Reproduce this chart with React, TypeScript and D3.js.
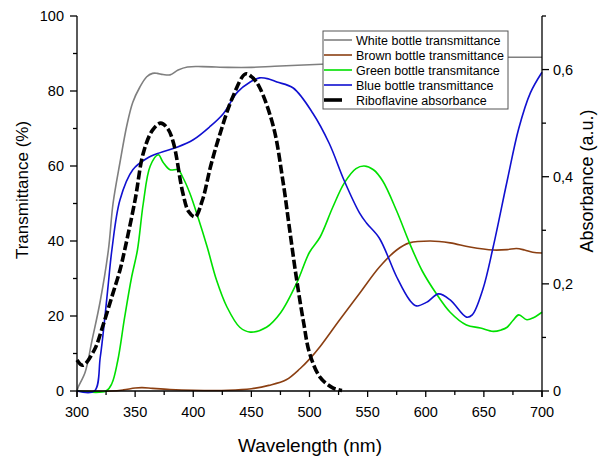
import React, { useEffect, useRef } from 'react';
import * as d3 from 'd3';

// [wavelength nm, transmittance %]
const whiteT: [number, number][] = [
  [300, 0], [301, 1], [307, 5], [313, 13.6], [320, 24], [327, 37.6], [331, 50], [337, 61],
  [343, 71], [348, 77], [354, 81], [360, 83.8], [365, 84.7], [369, 84.7], [374, 84.4], [380, 84.3],
  [387, 85.6], [395, 86.4], [408, 86.5], [430, 86.3], [450, 86.3], [470, 86.6], [500, 87],
  [530, 87.4], [560, 87.9], [590, 88.4], [620, 89], [650, 89], [700, 89],
];

const brownT: [number, number][] = [
  [300, 0], [330, 0], [340, 0.3], [350, 0.8], [356, 0.9], [365, 0.7], [380, 0.4], [400, 0.2],
  [430, 0.2], [450, 0.6], [465, 1.5], [480, 3], [492, 6], [500, 8.5], [509, 11.8], [526, 19],
  [543, 26], [560, 33], [575, 37.6], [586, 39.5], [604, 40], [621, 39.5], [638, 38.4],
  [658, 37.6], [670, 37.7], [678, 38], [685, 37.6], [692, 37], [700, 36.8],
];

const greenT: [number, number][] = [
  [300, 0], [325, 0], [330, 2], [335, 8], [341, 19.7], [347, 30.4], [352, 37.6], [357, 50],
  [363, 60], [370, 63], [374, 61], [380, 59], [387, 59], [391, 57], [397, 52.8], [404, 46.4],
  [412, 38.4], [420, 29.6], [429, 22.4], [440, 17], [449, 15.7], [463, 17], [475, 20.8],
  [489, 28.8], [500, 37], [509, 41], [520, 49], [530, 55.5], [540, 59.3], [547, 60], [555, 59],
  [563, 56], [575, 48], [586, 39.5], [597, 32], [609, 26], [621, 21], [635, 17.6], [647, 16.8],
  [658, 15.9], [665, 16.3], [670, 17], [675, 18.8], [680, 20.3], [687, 19], [693, 19.6], [700, 21],
];

const blueT: [number, number][] = [
  [300, 0], [315, 0], [320, 9], [324, 19.7], [327, 28.8], [330, 37.6], [337, 51], [348, 59],
  [360, 62], [371, 63.5], [386, 65], [400, 67], [414, 70.4], [426, 74], [438, 79.7],
  [449, 82.4], [457, 83.5], [465, 83.2], [472, 82.4], [486, 80.8], [503, 74], [517, 66],
  [530, 56], [543, 47.5], [549, 44.8], [560, 40.8], [575, 30.4], [586, 24.3], [592, 22.7],
  [601, 23.7], [611, 25.9], [621, 24.3], [635, 19.7], [640, 20.3], [649, 27], [658, 38.4],
  [670, 56], [680, 70], [690, 79.5], [700, 85],
];

// [wavelength nm, absorbance]
const riboA: [number, number][] = [
  [300, 0.058], [305, 0.048], [315, 0.077], [322, 0.12], [330, 0.176], [337, 0.226],
  [341, 0.263], [350, 0.357], [357, 0.444], [365, 0.487], [372, 0.5], [378, 0.49], [383, 0.463],
  [391, 0.37], [396, 0.335], [401.5, 0.325], [408, 0.357], [415, 0.42], [423, 0.48], [434, 0.549],
  [445, 0.592], [451, 0.585], [457, 0.567], [469, 0.493], [477, 0.394], [483, 0.3], [489, 0.207],
  [495, 0.127], [500, 0.071], [509, 0.026], [520, 0.006], [528, 0.001],
];

const xTicks = [300, 350, 400, 450, 500, 550, 600, 650, 700];
const xMinor = [325, 375, 425, 475, 525, 575, 625, 675];
const yTicks = [0, 20, 40, 60, 80, 100];
const yMinor = [10, 30, 50, 70, 90];
const aTicks = [0, 0.2, 0.4, 0.6];
const aMinor = [0.1, 0.3, 0.5, 0.7];

const legendItems = [
  { label: 'White bottle transmittance', color: '#7f7f7f' },
  { label: 'Brown bottle  transmittance', color: '#8b3f12' },
  { label: 'Green bottle  transmitance', color: '#00e000' },
  { label: 'Blue bottle  transmittance', color: '#1010d0' },
  { label: 'Riboflavine absorbance', color: '#000000' },
];

const W = 599;
const H = 456;

export default function App() {
  const svgRef = useRef<SVGSVGElement>(null);

  useEffect(() => {
    document.body.style.margin = '0';
    const svg = d3.select(svgRef.current);
    svg.selectAll('*').remove();

    const margin = { top: 16, right: 57, bottom: 65, left: 77 };
    const font = 'Liberation Sans, Arial, sans-serif';

    const x = d3.scaleLinear().domain([300, 700]).range([margin.left, W - margin.right]);
    const y = d3.scaleLinear().domain([0, 100]).range([H - margin.bottom, margin.top]);
    const ya = d3.scaleLinear().domain([0, 0.7]).range([H - margin.bottom, margin.top]);

    const bottom = H - margin.bottom;
    const left = margin.left;
    const right = W - margin.right;

    const line = d3.line<[number, number]>()
      .x(d => x(d[0]))
      .y(d => y(d[1]))
      .curve(d3.curveCatmullRom.alpha(0.5));

    const lineA = d3.line<[number, number]>()
      .x(d => x(d[0]))
      .y(d => ya(d[1]))
      .curve(d3.curveCatmullRom.alpha(0.5));

    const g = svg.append('g');

    const series: [[number, number][], string][] = [
      [whiteT, legendItems[0].color],
      [brownT, legendItems[1].color],
      [greenT, legendItems[2].color],
      [blueT, legendItems[3].color],
    ];
    series.forEach(([data, color]) => {
      g.append('path')
        .datum(data)
        .attr('fill', 'none')
        .attr('stroke', color)
        .attr('stroke-width', 1.6)
        .attr('d', line);
    });

    g.append('path')
      .datum(riboA)
      .attr('fill', 'none')
      .attr('stroke', '#000')
      .attr('stroke-width', 3.6)
      .attr('stroke-dasharray', '9,3')
      .attr('d', lineA);

    // axes
    const axes = svg.append('g').attr('stroke', '#000').attr('stroke-width', 1.3);
    axes.append('line').attr('x1', left).attr('x2', left).attr('y1', margin.top).attr('y2', bottom + 6);
    axes.append('line').attr('x1', right).attr('x2', right).attr('y1', margin.top).attr('y2', bottom + 6);
    axes.append('line').attr('x1', left).attr('x2', right).attr('y1', bottom).attr('y2', bottom);

    xTicks.forEach(t => {
      axes.append('line').attr('x1', x(t)).attr('x2', x(t)).attr('y1', bottom).attr('y2', bottom + 6);
    });
    xMinor.forEach(t => {
      axes.append('line').attr('x1', x(t)).attr('x2', x(t)).attr('y1', bottom).attr('y2', bottom + 4);
    });
    yTicks.forEach(t => {
      axes.append('line').attr('x1', left - 7).attr('x2', left).attr('y1', y(t)).attr('y2', y(t));
    });
    yMinor.forEach(t => {
      axes.append('line').attr('x1', left - 4).attr('x2', left).attr('y1', y(t)).attr('y2', y(t));
    });
    aTicks.forEach(t => {
      axes.append('line').attr('x1', right).attr('x2', right + 7).attr('y1', ya(t)).attr('y2', ya(t));
    });
    aMinor.forEach(t => {
      axes.append('line').attr('x1', right).attr('x2', right + 4).attr('y1', ya(t)).attr('y2', ya(t));
    });

    const labels = svg.append('g').attr('font-family', font).attr('font-size', 14.5).attr('fill', '#000');
    xTicks.forEach(t => {
      labels.append('text').attr('x', x(t)).attr('y', bottom + 26).attr('text-anchor', 'middle').text(t);
    });
    yTicks.forEach(t => {
      labels.append('text').attr('x', left - 13).attr('y', y(t) + 5).attr('text-anchor', 'end').text(t);
    });
    aTicks.forEach(t => {
      labels.append('text').attr('x', right + 11).attr('y', ya(t) + 5)
        .text(t === 0 ? '0' : t.toFixed(1).replace('.', ','));
    });

    svg.append('text')
      .attr('x', 310).attr('y', 452)
      .attr('text-anchor', 'middle').attr('font-family', font).attr('font-size', 19)
      .text('Wavelength (nm)');
    svg.append('text')
      .attr('transform', 'translate(28,190) rotate(-90)')
      .attr('text-anchor', 'middle').attr('font-family', font).attr('font-size', 17)
      .text('Transmittance (%)');
    svg.append('text')
      .attr('transform', 'translate(593,181) rotate(-90)')
      .attr('text-anchor', 'middle').attr('font-family', font).attr('font-size', 18)
      .text('Absorbance (a.u.)');

    // legend
    const lg = svg.append('g').attr('transform', 'translate(323,31)');
    lg.append('rect').attr('width', 185).attr('height', 78)
      .attr('fill', '#fff').attr('stroke', '#555').attr('stroke-width', 1);
    legendItems.forEach((item, i) => {
      const yy = 9 + i * 15;
      const isRibo = i === 4;
      lg.append('line')
        .attr('x1', 1).attr('x2', isRibo ? 19 : 29).attr('y1', yy).attr('y2', yy)
        .attr('stroke', item.color).attr('stroke-width', isRibo ? 3.6 : 1.6);
      lg.append('text').attr('x', 33).attr('y', yy + 4.5)
        .attr('font-family', font).attr('font-size', 12.5).text(item.label);
    });
  }, []);

  return <svg ref={svgRef} width={W} height={H} style={{ display: 'block', background: '#fff' }} />;
}
